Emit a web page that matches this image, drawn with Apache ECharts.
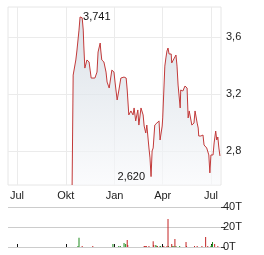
<!DOCTYPE html>
<html>
<head>
<meta charset="utf-8">
<script src="https://cdn.jsdelivr.net/npm/echarts@6/dist/echarts.min.js"></script>
<style>
  html, body { margin: 0; padding: 0; background: #fff; }
  #chart { width: 264px; height: 255px; }
</style>
</head>
<body>
<div id="chart"></div>
<script>
// Kursverlauf (Schlusskurse)
const priceDates = [
  '2023-10-13', '2023-10-15', '2023-10-18', '2023-10-20', '2023-10-22', '2023-10-26', '2023-10-28',
  '2023-11-01', '2023-11-03', '2023-11-04', '2023-11-06', '2023-11-10', '2023-11-14', '2023-11-16',
  '2023-11-18', '2023-11-21', '2023-11-25', '2023-11-29', '2023-12-01', '2023-12-05', '2023-12-06',
  '2023-12-08', '2023-12-12', '2023-12-16', '2023-12-18', '2023-12-20', '2023-12-22', '2023-12-23',
  '2023-12-27', '2023-12-31', '2024-01-02', '2024-01-06', '2024-01-08', '2024-01-09', '2024-01-13',
  '2024-01-15', '2024-01-19', '2024-01-23', '2024-01-25', '2024-01-28', '2024-02-01', '2024-02-05',
  '2024-02-07', '2024-02-10', '2024-02-14', '2024-02-16', '2024-02-20', '2024-02-24', '2024-02-26',
  '2024-02-29', '2024-03-02', '2024-03-06', '2024-03-08', '2024-03-10', '2024-03-12', '2024-03-14',
  '2024-03-17', '2024-03-19', '2024-03-21', '2024-03-25', '2024-03-27', '2024-03-29', '2024-03-31',
  '2024-04-01', '2024-04-05', '2024-04-07', '2024-04-09', '2024-04-11', '2024-04-13', '2024-04-17',
  '2024-04-18', '2024-04-22', '2024-04-26', '2024-04-28', '2024-04-30', '2024-05-04', '2024-05-05',
  '2024-05-09', '2024-05-11', '2024-05-13', '2024-05-17', '2024-05-19', '2024-05-21', '2024-05-24',
  '2024-05-26', '2024-05-30', '2024-06-01', '2024-06-05', '2024-06-07', '2024-06-08', '2024-06-12',
  '2024-06-16', '2024-06-18', '2024-06-20', '2024-06-23', '2024-06-25', '2024-06-27', '2024-06-29',
  '2024-07-01', '2024-07-05', '2024-07-07', '2024-07-09', '2024-07-10', '2024-07-12', '2024-07-14',
  '2024-07-16', '2024-07-18'
]
const prices = [
  2.561, 3.333, 3.347, 3.439, 3.502, 3.649, 3.741,
  3.735, 3.649, 3.544, 3.382, 3.439, 3.425, 3.368,
  3.312, 3.326, 3.312, 3.354, 3.495, 3.558, 3.509,
  3.439, 3.425, 3.354, 3.284, 3.263, 3.242, 3.256,
  3.368, 3.354, 3.284, 3.158, 3.151, 3.221, 3.312,
  3.298, 3.319, 3.312, 3.228, 3.053, 3.081, 3.053,
  3.102, 3.011, 3.088, 2.982, 3.102, 3.053, 2.975,
  2.926, 2.982, 2.821, 2.751, 2.620, 2.800, 2.821,
  2.982, 2.975, 2.996, 3.011, 2.877, 2.891, 2.975,
  3.032, 3.396, 3.453, 3.502, 3.523, 3.481, 3.481,
  3.418, 3.446, 3.474, 3.396, 3.263, 3.102, 3.228,
  3.221, 3.221, 3.256, 3.242, 3.032, 3.081, 3.081,
  2.982, 2.996, 3.081, 2.996, 2.961, 2.905, 2.905,
  2.912, 2.842, 2.835, 2.821, 2.821, 2.772, 2.646,
  2.772, 2.772, 2.856, 2.870, 2.940, 2.877, 2.898,
  2.821, 2.765
]
// markierte Extremwerte (Hoch / Tief)
const highDate = '2023-10-28'
const highValue = 3.741
const lowDate = '2024-03-10'
const lowValue = 2.620

// Umsatz (Stück) an Tagen mit steigendem / fallendem Kurs
const volUpDates = [
  '2023-10-24', '2023-10-26', '2023-12-29', '2024-01-09', '2024-01-12', '2024-01-19', '2024-01-22',
  '2024-03-19', '2024-03-21', '2024-03-27', '2024-03-28', '2024-04-12', '2024-04-19', '2024-04-22',
  '2024-04-26', '2024-05-03', '2024-07-01', '2024-07-02', '2024-07-04'
]
const volUp = [
  1000, 9300, 3000, 1000, 1000, 4000, 3000,
  2000, 1000, 1000, 1000, 1000, 1000, 1000,
  1000, 1000, 1000, 2000, 5000
]
const volDownDates = [
  '2023-11-01', '2023-11-21', '2024-01-25', '2024-01-26', '2024-02-26', '2024-02-27', '2024-02-29',
  '2024-03-01', '2024-03-06', '2024-03-14', '2024-03-15', '2024-03-22', '2024-04-03', '2024-04-09',
  '2024-04-11', '2024-04-18', '2024-04-24', '2024-05-15', '2024-05-16', '2024-05-31', '2024-06-05',
  '2024-06-14', '2024-06-21', '2024-06-25', '2024-07-08', '2024-07-14'
]
const volDown = [
  1000, 1000, 7000, 2000, 1000, 1000, 1000,
  1000, 1000, 5700, 2000, 1000, 1000, 1000,
  28000, 3000, 8000, 5000, 1000, 1000, 1000,
  1000, 10000, 1000, 3000, 1000
]

// Achsen
const xStart = '2023-06-14'
const xEnd = '2024-07-20'
const monthTicks = ['2023-07-01', '2023-10-01', '2024-01-01', '2024-04-01', '2024-07-01']
const monthNames = ['Jan', 'Feb', 'Mär', 'Apr', 'Mai', 'Jun', 'Jul', 'Aug', 'Sep', 'Okt', 'Nov', 'Dez']
const priceTicks = [2.8, 3.2, 3.6]
const priceMin = 2.561
const priceMax = 3.811

// Datum als lokaler Zeitstempel (Wertachse statt Zeitachse)
const ts = (s) => {
  const [y, m, d] = s.split('-').map(Number)
  return new Date(y, m - 1, d).getTime()
}
const fmtNum = (v, d) => v.toFixed(d).replace('.', ',')
const tickTs = monthTicks.map(ts)

const chart = echarts.init(document.getElementById('chart'))

chart.setOption({
  animation: false,
  textStyle: { fontFamily: 'Liberation Sans, Arial, sans-serif' },
  grid: [
    { left: 8, right: 43, top: 7, height: 178, show: true, borderColor: '#e6e6e6', borderWidth: 1 },
    { left: 8, right: 43, top: 207, height: 40 }
  ],
  xAxis: [
    {
      type: 'value',
      gridIndex: 0,
      min: ts(xStart),
      max: ts(xEnd),
      axisLine: { show: false },
      axisTick: { show: false, customValues: tickTs },
      axisLabel: {
        customValues: tickTs,
        fontSize: 11,
        color: '#222',
        margin: 5,
        formatter: (val) => monthNames[new Date(val).getMonth()]
      },
      splitLine: { show: true, lineStyle: { color: '#ebebeb', width: 1 } }
    },
    {
      type: 'value',
      gridIndex: 1,
      position: 'top',
      min: ts(xStart),
      max: ts(xEnd),
      axisLine: { show: false },
      axisTick: { show: true, length: 3, customValues: tickTs, lineStyle: { color: '#111' } },
      axisLabel: { show: false },
      splitLine: { show: false }
    }
  ],
  yAxis: [
    {
      type: 'value',
      gridIndex: 0,
      position: 'right',
      min: priceMin,
      max: priceMax,
      axisLine: { show: false },
      axisTick: { show: false, customValues: priceTicks },
      axisLabel: {
        customValues: priceTicks,
        fontSize: 11,
        color: '#222',
        margin: 5,
        formatter: (v) => fmtNum(v, 1)
      },
      splitLine: { show: true, lineStyle: { color: '#ebebeb', width: 1 } }
    },
    {
      type: 'value',
      gridIndex: 1,
      position: 'right',
      min: 0,
      max: 40000,
      interval: 20000,
      axisLine: { show: false },
      axisTick: { show: true, length: 4, lineStyle: { color: '#333' } },
      axisLabel: {
        fontSize: 11,
        color: '#222',
        margin: 2,
        formatter: (v) => (v / 1000) + 'T'
      },
      splitLine: { show: true, lineStyle: { color: '#cccccc', width: 1 } }
    }
  ],
  series: [
    {
      type: 'line',
      xAxisIndex: 0,
      yAxisIndex: 0,
      data: priceDates.map((d, i) => [ts(d), prices[i]]),
      showSymbol: false,
      lineStyle: { color: '#c23a3a', width: 1 },
      areaStyle: {
        origin: 'start',
        color: new echarts.graphic.LinearGradient(0, 0, 0, 1, [
          { offset: 0, color: '#ccd5de' },
          { offset: 1, color: '#f8f9fb' }
        ])
      },
      markPoint: {
        symbol: 'circle',
        symbolSize: 0,
        label: {
          fontSize: 11,
          color: '#111',
          formatter: (p) => fmtNum(p.value, 3)
        },
        data: [
          { coord: [ts(highDate), highValue], value: highValue, label: { position: 'right', distance: 3 } },
          { coord: [ts(lowDate), lowValue], value: lowValue, label: { position: 'left', distance: 6 } }
        ]
      }
    },
    {
      type: 'bar',
      xAxisIndex: 1,
      yAxisIndex: 1,
      barWidth: 1,
      itemStyle: { color: '#1e8c1e' },
      data: volUpDates.map((d, i) => [ts(d), volUp[i]])
    },
    {
      type: 'bar',
      xAxisIndex: 1,
      yAxisIndex: 1,
      barWidth: 1,
      barGap: '-100%',
      itemStyle: { color: '#c42424' },
      data: volDownDates.map((d, i) => [ts(d), volDown[i]])
    }
  ]
})
</script>
</body>
</html>
